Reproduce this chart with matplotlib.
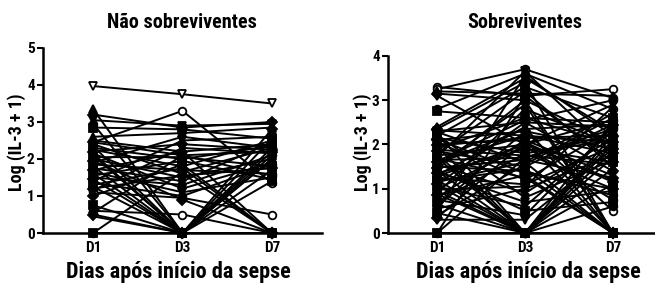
import matplotlib
matplotlib.use('Agg')
import matplotlib.pyplot as plt

# Non-survivors: log(IL-3 + 1) at D1, D3, D7
ns_d1 = [3.97, 2.45, 3.35, 3.20, 3.05, 2.95, 2.85, 2.50, 2.45, 2.40, 2.35, 2.30, 2.25, 2.20, 2.15, 2.10,
         2.05, 2.00, 1.95, 1.90, 1.85, 1.80, 1.75, 1.70, 1.65, 1.60, 1.55, 1.50, 1.45, 1.40, 1.35, 1.30,
         1.25, 1.20, 1.15, 1.10, 0.75, 0.60, 0.50, 0.45, 0.00, 0.00, 2.60, 1.00, 2.15, 0.55]
ns_d3 = [3.75, 3.30, 0.00, 2.85, 2.90, 0.00, 2.80, 2.20, 2.10, 1.60, 0.00, 2.00, 1.80, 2.40, 1.20, 0.00,
         2.05, 1.50, 0.90, 2.60, 1.70, 0.00, 1.40, 2.20, 1.10, 0.00, 1.95, 1.30, 0.00, 2.50, 1.00, 1.75,
         0.00, 1.55, 2.30, 0.95, 0.00, 0.50, 0.00, 0.00, 1.65, 0.00, 2.70, 1.85, 0.00, 2.10]
ns_d7 = [3.50, 1.35, 0.00, 3.00, 2.95, 2.30, 2.55, 2.40, 2.20, 0.00, 2.10, 2.35, 2.50, 2.25, 1.90, 0.00,
         1.80, 2.00, 0.00, 2.30, 1.60, 1.70, 2.45, 0.00, 1.50, 2.20, 1.45, 2.10, 0.00, 2.60, 1.85, 0.00,
         2.00, 1.75, 2.15, 0.50, 1.40, 0.00, 2.80, 0.00, 2.30, 2.55, 2.85, 0.00, 2.00, 1.55]

# Survivors
s_d1 = [3.30, 3.25, 3.20, 3.15, 3.10, 2.80, 2.75, 2.40, 2.35, 2.30, 2.25, 2.20, 2.15, 2.10, 2.05, 2.00,
        1.95, 1.90, 1.85, 1.80, 1.75, 1.70, 1.65, 1.60, 1.55, 1.50, 1.45, 1.40, 1.35, 1.30, 1.25, 1.20,
        1.15, 1.10, 1.05, 1.00, 0.95, 0.90, 0.85, 0.80, 0.75, 0.70, 0.65, 0.60, 0.55, 0.50, 0.45, 0.40,
        0.35, 0.30, 0.00, 0.00, 0.00, 1.98, 1.88, 1.78, 1.68, 1.58, 1.48, 1.38, 1.28, 1.18, 1.08, 2.12,
        2.22, 1.62, 1.42, 0.98, 2.32, 1.72, 0.88, 2.28, 1.52]
s_d3 = [3.10, 3.70, 3.15, 3.00, 2.00, 3.60, 2.60, 3.50, 3.40, 2.50, 0.00, 3.30, 1.80, 2.30, 1.20, 2.10,
        0.00, 2.60, 1.50, 3.20, 2.00, 0.00, 1.70, 2.20, 0.90, 1.40, 3.00, 0.00, 1.90, 2.40, 1.10, 0.00,
        1.60, 2.50, 0.60, 1.95, 0.00, 2.80, 1.30, 2.10, 0.40, 1.80, 0.00, 2.30, 1.00, 3.55, 0.00, 1.55,
        2.05, 0.30, 1.70, 3.10, 0.00, 2.15, 1.75, 0.00, 1.25, 2.35, 1.65, 0.70, 2.00, 1.45, 0.00, 1.35,
        0.80, 2.55, 0.50, 1.05, 2.20, 3.65, 0.00, 1.60, 2.90]
s_d7 = [3.25, 3.05, 3.10, 0.00, 2.90, 2.80, 2.50, 2.30, 0.00, 2.40, 2.20, 2.60, 2.10, 1.90, 2.35, 0.00,
        1.70, 2.00, 2.45, 1.50, 1.20, 0.00, 2.25, 1.80, 2.15, 0.85, 2.05, 2.50, 1.60, 0.00, 1.95, 1.10,
        2.70, 1.40, 2.30, 0.75, 1.85, 2.00, 0.00, 1.30, 2.40, 1.00, 2.10, 0.50, 1.75, 2.20, 0.00, 2.60,
        1.15, 1.90, 2.35, 1.60, 0.00, 2.20, 1.55, 2.00, 0.00, 2.45, 1.25, 0.95, 2.55, 0.00, 1.45, 1.00,
        1.65, 3.00, 0.70, 2.85, 2.05, 1.80, 0.60, 0.00, 0.00]

days = ['D1', 'D3', 'D7']
x = [1, 2, 3]

plt.rcParams['font.family'] = ['Roboto Condensed', 'DejaVu Sans']
plt.rcParams['font.weight'] = 'bold'

fig = plt.figure(figsize=(6.55, 2.86), dpi=100)
ax1 = fig.add_axes([0.0656, 0.1853, 0.426, 0.647])
ax2 = fig.add_axes([0.5924, 0.1853, 0.4076, 0.619])

markers = ['o', 's', '^', 'D', 'v']

# rows drawn with hollow markers (row index -> marker)
ns_open = {0: 'v', 1: 'o', 35: 'o', 37: 'o'}
s_open = {0: 'o', 1: 'o', 43: 'o'}

def draw(ax, d1, d3, d7, ymax, xr, open_rows):
    for i in range(len(d1)):
        if i in open_rows:
            m, fc = open_rows[i], 'white'
        else:
            m, fc = markers[i % len(markers)], 'black'
        # hollow rows go underneath so the filled clusters hide them
        ax.plot(x, [d1[i], d3[i], d7[i]], color='black', lw=1.4, marker=m,
                ms=5.5, mfc=fc, mec='black', mew=1.3, clip_on=False,
                zorder=1.5 if i in open_rows else 2)
    ax.set_xlim(0.44, xr)
    ax.set_ylim(0, ymax)
    ax.set_yticks(range(ymax + 1))
    ax.set_xticks(x)
    ax.set_xticklabels(days)
    for s in ['top', 'right']:
        ax.spines[s].set_visible(False)
    for s in ['left', 'bottom']:
        ax.spines[s].set_linewidth(1.8)
    ax.tick_params(axis='y', width=1.5, length=4, labelsize=11, pad=2)
    ax.tick_params(axis='x', length=0, labelsize=11, pad=6)

draw(ax1, ns_d1, ns_d3, ns_d7, 5, 3.56, ns_open)
draw(ax2, s_d1, s_d3, s_d7, 4, 3.48, s_open)

ty = 1 - 22 / 286
fig.text(182 / 655, ty, 'Não sobreviventes', ha='center', va='center', fontsize=14.5, fontweight='bold')
fig.text(525 / 655, ty, 'Sobreviventes', ha='center', va='center', fontsize=14.5, fontweight='bold')
xy = 1 - 272 / 286
fig.text(178 / 655, xy, 'Dias após início da sepse', ha='center', va='center', fontsize=16, fontweight='bold')
fig.text(528 / 655, xy, 'Dias após início da sepse', ha='center', va='center', fontsize=16, fontweight='bold')
yy = 1 - 142 / 286
fig.text(17 / 655, yy, 'Log (IL-3 + 1)', ha='center', va='center', rotation=90, fontsize=13, fontweight='bold')
fig.text(363 / 655, yy, 'Log (IL-3 + 1)', ha='center', va='center', rotation=90, fontsize=13, fontweight='bold')

fig.savefig('out.png', dpi=100)
